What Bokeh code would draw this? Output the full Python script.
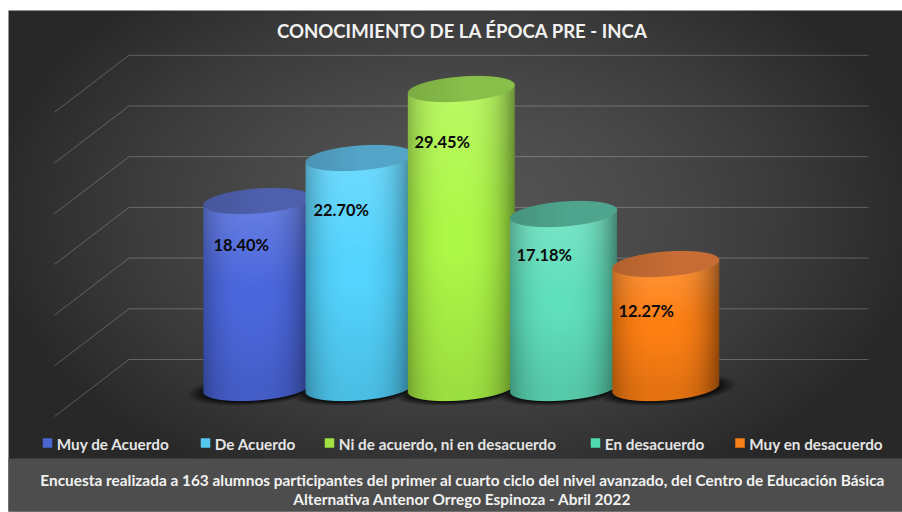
import numpy as np
from bokeh.plotting import figure
from bokeh.models import Range1d, ColumnDataSource
from bokeh.core.properties import value
from bokeh.embed import file_html
from bokeh.resources import INLINE

TITLE = "CONOCIMIENTO DE LA ÉPOCA PRE - INCA"
categories = ["Muy de Acuerdo", "De Acuerdo", "Ni de acuerdo, ni en desacuerdo", "En desacuerdo", "Muy en desacuerdo"]
values = [18.40, 22.70, 29.45, 17.18, 12.27]
labels = ["18.40%", "22.70%", "29.45%", "17.18%", "12.27%"]
ticks = [0, 5, 10, 15, 20, 25, 30]
footer = ["Encuesta realizada a 163 alumnos participantes del primer al cuarto ciclo del nivel avanzado, del Centro de Educación Básica",
          "Alternativa Antenor Orrego Espinoza - Abril 2022"]

body_colors = [(76, 104, 222), (84, 212, 255), (174, 248, 72), (96, 224, 188), (255, 128, 20)]
cap_colors = [(78, 96, 172), (84, 164, 200), (136, 190, 74), (78, 164, 140), (198, 108, 52)]
legend_colors = ["#4a66d0", "#55c8f0", "#a0e040", "#50d8b0", "#f98018"]
legend_swatch_x = [47, 205, 329, 595, 739.5]
label_left_x = [213, 313, 414, 516, 618]
label_y = [244, 209, 141, 254, 310]

W, H = 902, 512
PAGE_X, PAGE_Y = 0, 0
UNIT_X, ZERO_X = 102.25, 256.3     # px per category, page x of first category
UNIT_Y, ZERO_Y = 10.14, 387.5      # px per percent, page y of the zero line at bar centre
A, B, K = 53.5, 12.5, 4 / 53.5     # bar half width, cap half height, cap tilt


def dx(px):
    return (px - ZERO_X) / UNIT_X


def dy(py):
    return (ZERO_Y - py) / UNIT_Y


def to_rgba(rgb, alpha):
    a = np.dstack([np.clip(rgb, 0, 255), np.clip(alpha, 0, 1) * 255]).astype(np.uint8)
    return a.view(np.uint32).reshape(a.shape[:2])


p = figure(width=W, height=H, output_backend="svg", toolbar_location=None, min_border=0,
           x_range=Range1d(dx(PAGE_X), dx(PAGE_X + W)), y_range=Range1d(dy(PAGE_Y + H), dy(PAGE_Y)))
p.axis.visible = False
p.grid.visible = False
p.outline_line_color = None
p.background_fill_color = "white"
p.border_fill_color = "white"

# --- background panel
bg_top, bg_bottom, bg_left, bg_right = 10, 511, 8, 902
Yp, Xp = np.mgrid[bg_top:bg_bottom, bg_left:bg_right]
r = np.sqrt(((Xp - 455) / 470.0) ** 2 + ((Yp - 215) / 300.0) ** 2)
g = 40 + 45 * (1 - np.clip(r, 0, 1) ** 1.5)
rgb = np.dstack([g, g, g])
p.image_rgba(image=[to_rgba(rgb, np.ones_like(g))[::-1]], x=[dx(bg_left)], y=[dy(bg_bottom)],
             dw=[dx(bg_right) - dx(bg_left)], dh=[dy(bg_top) - dy(bg_bottom)])
# footer band
p.quad(left=[dx(bg_left)], right=[dx(bg_right)], top=[dy(458)], bottom=[dy(bg_bottom)],
       fill_color="#4d4d4d", line_color=None)

# --- gridlines from the value ticks (floor slant + back wall)
depth_back, depth_front = (ZERO_Y - 359) / UNIT_Y, (ZERO_Y - 416) / UNIT_Y
xs = [[dx(54), dx(128.5), dx(868)] for _ in ticks]
ys = [[t + depth_front, t + depth_back, t + depth_back] for t in ticks]
p.multi_line(xs=xs, ys=ys, line_color="white", line_width=1, line_alpha=0.24)

# --- floor shadows
sy0, sy1, sx0, sx1 = 340, 425, 170, 760
Yp, Xp = np.mgrid[sy0:sy1, sx0:sx1]
shadow = np.zeros_like(Yp, dtype=float)
for i in range(len(values)):
    cx = ZERO_X + i * UNIT_X
    ddx = (Xp - cx) + 0.0
    ddy = (Yp - ZERO_Y - 1) + K * ddx
    rr = np.sqrt((ddx / (A + 17)) ** 2 + (ddy / (B + 3)) ** 2)
    shadow = np.maximum(shadow, np.clip((1.0 - rr) / 0.28, 0, 1))
p.image_rgba(image=[to_rgba(np.zeros(shadow.shape + (3,)), shadow * 0.85)[::-1]], x=[dx(sx0)], y=[dy(sy1)],
             dw=[dx(sx1) - dx(sx0)], dh=[dy(sy0) - dy(sy1)])

# --- cylinders, value drives height through the y scale
for i, (v, bc, cc) in enumerate(zip(values, body_colors, cap_colors)):
    hpx = int(round(v * UNIT_Y))
    pad = 16
    w = int(2 * A) + 4
    h = hpx + 2 * pad
    Y, X = np.mgrid[0:h, 0:w]
    ddx = X + 0.5 - w / 2.0
    yy = Y + 0.5 - pad
    s = np.sqrt(np.clip(1 - (ddx / A) ** 2, 0, 1))
    upper = -K * ddx - B * s
    lower = -K * ddx + B * s
    bottom = hpx - K * ddx + B * s
    ax = np.clip(A - np.abs(ddx) + 0.5, 0, 1)
    alpha = ax * np.clip(yy - upper + 0.5, 0, 1) * np.clip(bottom - yy + 0.5, 0, 1)
    cap = np.clip(lower - yy + 0.5, 0, 1)
    u = ddx / A
    shade = 1 - 0.34 * np.abs(u + 0.08) ** 3
    t = np.clip(yy / hpx, 0, 1)
    lift = np.clip(1 - t / 0.45, 0, 1) * 0.16
    drop = 1 - 0.1 * np.clip((t - 0.55) / 0.45, 0, 1)
    body = np.dstack([(c + (255 - c) * lift) * drop * shade for c in bc])
    cap_shade = 1 - 0.1 * np.clip(-u, 0, 1)
    caprgb = np.dstack([c * cap_shade for c in cc])
    rgb = body * (1 - cap[..., None]) + caprgb * cap[..., None]
    img = to_rgba(rgb, alpha)[::-1]
    p.image_rgba(image=[img], x=[i - (w / 2.0) / UNIT_X], y=[-(pad) / UNIT_Y],
                 dw=[w / UNIT_X], dh=[h / UNIT_Y])

# --- value labels
p.text(x=[dx(px) for px in label_left_x], y=[dy(py) for py in label_y], text=labels,
       text_font=value("Lato"), text_font_style="bold", text_font_size="16.4px", text_color="#0a0a0a",
       text_align="left", text_baseline="middle")

# --- title
p.text(x=[dx(462)], y=[dy(30)], text=[TITLE], text_font=value("Lato"), text_font_style="bold",
       text_font_size="18.6px", text_color="#f2f2f2", text_align="center", text_baseline="middle")

# --- legend
p.scatter(x=[dx(px) for px in legend_swatch_x], y=[dy(442.5)] * 5, marker="square", size=9.5,
          fill_color=legend_colors, line_color=None)
p.text(x=[dx(px + 9.3) for px in legend_swatch_x], y=[dy(443)] * 5, text=categories,
       text_font=value("Lato"), text_font_style="bold", text_font_size="15.3px", text_color="#e4e4e4",
       text_align="left", text_baseline="middle")

# --- footer
p.text(x=[dx(462)] * 2, y=[dy(479), dy(498)], text=footer, text_font=value("Lato"), text_font_style="bold",
       text_font_size="15.4px", text_color="#f2f2f2", text_align="center", text_baseline="middle")

open("out.html", "w").write(file_html(p, INLINE))
